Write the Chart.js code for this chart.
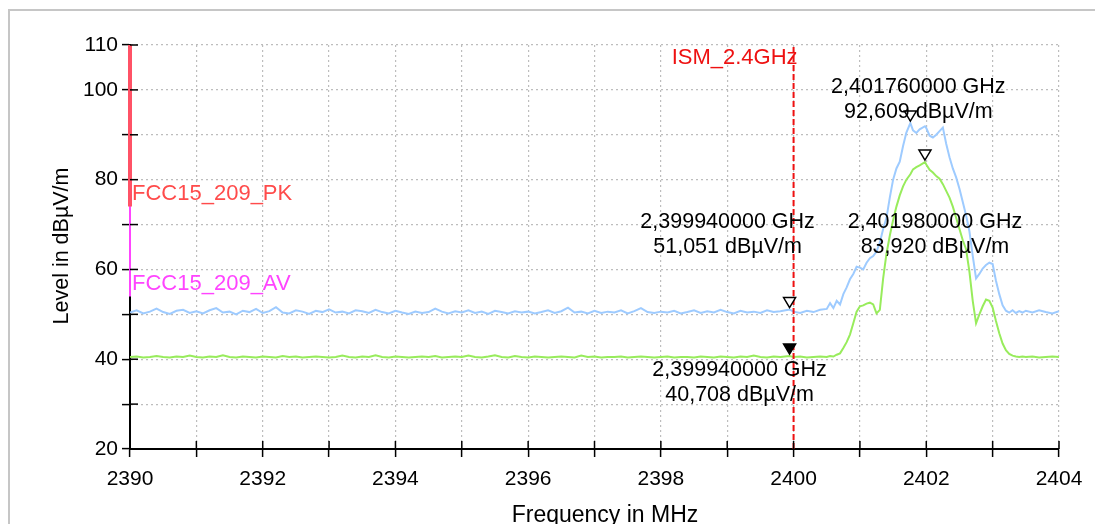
<!DOCTYPE html>
<html>
<head>
<meta charset="utf-8">
<script src="https://cdn.jsdelivr.net/npm/chart.js@4.4.1/dist/chart.umd.min.js"></script>
<style>
  html, body { margin: 0; padding: 0; background: #fff; }
  #wrap { position: relative; width: 1095px; height: 524px; overflow: hidden; }
  #frame { position: absolute; left: 8px; top: 9px; width: 1100px; height: 540px; border: 2px solid #c6c6c6; box-sizing: border-box; }
  #scan { position: absolute; left: 0; top: 0; }
</style>
</head>
<body>
<div id="wrap">
  <div id="frame"></div>
  <canvas id="scan" width="1095" height="524"></canvas>
</div>
<script>
// sweep points (MHz)
const freqs = [
  2390.0, 2390.1, 2390.2, 2390.3, 2390.4, 2390.5, 2390.6, 2390.7, 2390.8, 2390.9,
  2391.0, 2391.1, 2391.2, 2391.3, 2391.4, 2391.5, 2391.6, 2391.7, 2391.8, 2391.9,
  2392.0, 2392.1, 2392.2, 2392.3, 2392.4, 2392.5, 2392.6, 2392.7, 2392.8, 2392.9,
  2393.0, 2393.1, 2393.2, 2393.3, 2393.4, 2393.5, 2393.6, 2393.7, 2393.8, 2393.9,
  2394.0, 2394.1, 2394.2, 2394.3, 2394.4, 2394.5, 2394.6, 2394.7, 2394.8, 2394.9,
  2395.0, 2395.1, 2395.2, 2395.3, 2395.4, 2395.5, 2395.6, 2395.7, 2395.8, 2395.9,
  2396.0, 2396.1, 2396.2, 2396.3, 2396.4, 2396.5, 2396.6, 2396.7, 2396.8, 2396.9,
  2397.0, 2397.1, 2397.2, 2397.3, 2397.4, 2397.5, 2397.6, 2397.7, 2397.8, 2397.9,
  2398.0, 2398.1, 2398.2, 2398.3, 2398.4, 2398.5, 2398.6, 2398.7, 2398.8, 2398.9,
  2399.0, 2399.1, 2399.2, 2399.3, 2399.4, 2399.5, 2399.6, 2399.7, 2399.8, 2399.94,
  2400.0, 2400.1, 2400.2, 2400.3, 2400.4,
  2400.50, 2400.55, 2400.60, 2400.65, 2400.70, 2400.75, 2400.80, 2400.85, 2400.90, 2400.95,
  2401.00, 2401.05, 2401.10, 2401.15, 2401.20, 2401.25, 2401.30, 2401.35, 2401.40, 2401.45,
  2401.50, 2401.55, 2401.60, 2401.65, 2401.70, 2401.76, 2401.80, 2401.85, 2401.90, 2401.98,
  2402.00, 2402.05, 2402.10, 2402.15, 2402.20, 2402.25, 2402.30, 2402.35, 2402.40, 2402.45,
  2402.50, 2402.55, 2402.60, 2402.65, 2402.70, 2402.75, 2402.80, 2402.85, 2402.90, 2402.95,
  2403.00, 2403.05, 2403.10, 2403.15, 2403.20, 2403.25, 2403.30, 2403.35, 2403.40, 2403.45, 2403.50,
  2403.6, 2403.7, 2403.8, 2403.9, 2404.0
];

// peak detector trace (dBµV/m)
const peakLevels = [
  50.4, 50.9, 50.2, 50.6, 51.3, 50.5, 50.1, 50.8, 51.0, 50.3,
  50.7, 50.2, 50.9, 51.4, 50.4, 50.6, 50.0, 50.8, 50.5, 51.2,
  50.3, 50.7, 51.6, 50.4, 50.2, 50.9, 50.6, 50.1, 50.8, 50.5,
  51.1, 50.4, 50.6, 50.2, 50.9, 50.7, 50.3, 51.0, 50.5, 50.2,
  50.8, 50.4, 50.1, 50.6, 50.3, 50.5, 51.3, 50.6, 50.2, 50.7,
  50.4, 50.9, 50.3, 50.6, 50.1, 50.8, 50.5, 50.2, 50.7, 50.4,
  50.6, 50.2, 50.5, 50.9, 50.3, 50.7, 51.5, 50.4, 50.6, 50.2,
  50.8, 50.3, 50.6, 50.4, 50.9, 50.2, 50.7, 51.4, 50.5, 50.3,
  50.6, 50.4, 50.8, 50.2, 50.5, 50.9, 50.3, 50.7, 50.4, 51.0,
  50.5, 50.2, 50.8, 50.4, 50.6, 50.3, 50.9, 50.5, 50.7, 51.05,
  50.6, 50.3, 50.8, 50.5, 51.0,
  51.2, 52.5, 51.4, 53.0, 52.2, 54.5, 56.0, 57.8, 59.0, 60.6,
  60.4, 60.0, 61.5, 62.5, 63.0, 64.0, 66.0, 69.0, 71.5, 76.0,
  80.0, 82.5, 84.0, 87.5, 90.5, 92.61, 91.0, 90.4, 91.2, 91.9,
  91.5, 89.8, 89.4, 90.0, 90.8, 91.6, 88.0, 85.0, 82.5, 80.5,
  78.0, 75.0, 72.0, 68.5, 63.0, 58.0, 59.0, 60.2, 61.0, 61.5,
  61.2, 57.5, 54.5, 52.0, 50.8, 50.4, 50.9, 50.3, 50.7, 50.4, 50.8,
  50.4, 50.9, 50.5, 50.2, 50.7
];

// average detector trace (dBµV/m)
const avgLevels = [
  40.5, 40.6, 40.4, 40.5, 40.7, 40.5, 40.4, 40.6, 40.5, 40.8,
  40.5, 40.4, 40.6, 40.5, 40.9, 40.5, 40.4, 40.6, 40.5, 40.4,
  40.6, 40.5, 40.4, 40.7, 40.5, 40.6, 40.4, 40.5, 40.6, 40.5,
  40.4, 40.5, 40.8, 40.5, 40.4, 40.6, 40.5, 40.9, 40.5, 40.4,
  40.6, 40.5, 40.4, 40.5, 40.6, 40.5, 40.7, 40.4, 40.5, 40.6,
  40.5, 40.8, 40.5, 40.4, 40.6, 40.9, 40.5, 40.4, 40.7, 40.5,
  40.4, 40.6, 40.5, 40.4, 40.5, 40.6, 40.5, 40.4, 40.8, 40.5,
  40.6, 40.4, 40.5, 40.5, 40.6, 40.4, 40.5, 40.6, 40.5, 40.4,
  40.5, 40.6, 40.4, 40.5, 40.5, 40.4, 40.6, 40.5, 40.4, 40.6,
  40.5, 40.4, 40.6, 40.5, 40.8, 40.5, 40.4, 40.6, 40.5, 40.71,
  40.5, 40.6, 40.4, 40.5, 40.6,
  40.5, 40.7, 40.6, 41.0, 41.3, 42.5, 43.8, 45.5, 48.0, 50.6,
  51.8, 52.0, 52.4, 52.6, 52.2, 50.2, 51.0, 58.0, 63.5, 67.5,
  71.0, 74.0, 76.5, 78.5, 80.0, 81.2, 82.3, 82.8, 83.2, 83.92,
  83.4, 82.2, 81.6, 80.8, 80.2, 79.0, 77.5, 76.0, 74.0, 71.5,
  69.0, 66.5, 64.5, 59.5, 53.0, 48.0, 50.0, 51.8, 53.3, 53.0,
  51.5, 48.5, 45.8, 43.5, 42.0, 41.2, 40.8, 40.6, 40.5, 40.6, 40.5,
  40.6, 40.4, 40.5, 40.6, 40.5
];

// limit lines (only the restricted band edge at 2390 MHz falls in view)
const limitFreq = [2390, 2390];
const pkLimit = [110, 74];
const avLimit = [110, 54];
const ismFreq = 2400;

// markers
const markerFreq = [2399.94, 2399.94, 2401.76, 2401.98];
const markerLevel = [51.051, 40.708, 92.609, 83.920];
const markerFilled = [false, true, false, false];
const markerText = [
  ['2,399940000 GHz', '51,051 dBµV/m'],
  ['2,399940000 GHz', '40,708 dBµV/m'],
  ['2,401760000 GHz', '92,609 dBµV/m'],
  ['2,401980000 GHz', '83,920 dBµV/m']
];
// label offset from marker tip, px (centre x, first line y)
const markerLabelOffset = [[-62, -86], [-50, 16], [8, -34], [10, 62]];

const xTickLabels = [2390, 2392, 2394, 2396, 2398, 2400, 2402, 2404];
const yTickLabels = [20, 40, 60, 80, 100, 110];

const FONT = '"Liberation Sans", Arial, sans-serif';

function pts(xs, ys) {
  return xs.map((x, i) => ({ x: x, y: ys[i] }));
}

const annotate = {
  id: 'annotate',
  afterDatasetsDraw(chart) {
    const ctx = chart.ctx;
    const xs = chart.scales.x;
    const ys = chart.scales.y;
    const area = chart.chartArea;

    ctx.save();
    // inner tick marks
    ctx.strokeStyle = '#000';
    ctx.lineWidth = 1.5;
    for (let v = 2390; v <= 2404; v++) {
      const px = xs.getPixelForValue(v);
      ctx.beginPath();
      ctx.moveTo(px, area.bottom);
      ctx.lineTo(px, area.bottom - 8);
      ctx.stroke();
    }
    for (let v = 20; v <= 110; v += 10) {
      const py = ys.getPixelForValue(v);
      ctx.beginPath();
      ctx.moveTo(area.left, py);
      ctx.lineTo(area.left + 8, py);
      ctx.stroke();
    }

    ctx.textBaseline = 'middle';

    // ISM label
    ctx.font = '22px ' + FONT;
    ctx.fillStyle = '#ee1111';
    ctx.textAlign = 'right';
    ctx.fillText('ISM_2.4GHz', xs.getPixelForValue(ismFreq) + 4, area.top + 13);

    // limit labels
    ctx.textAlign = 'left';
    ctx.fillStyle = '#ff4b4b';
    ctx.fillText('FCC15_209_PK', xs.getPixelForValue(limitFreq[1]) + 2, ys.getPixelForValue(pkLimit[1]) - 13);
    ctx.fillStyle = '#ff44ff';
    ctx.fillText('FCC15_209_AV', xs.getPixelForValue(limitFreq[1]) + 2, ys.getPixelForValue(avLimit[1]) - 12);

    // markers
    ctx.font = '21.5px ' + FONT;
    ctx.textAlign = 'center';
    markerFreq.forEach((f, i) => {
      const px = xs.getPixelForValue(f);
      const py = ys.getPixelForValue(markerLevel[i]) - 2;
      ctx.beginPath();
      ctx.moveTo(px, py);
      ctx.lineTo(px - 6, py - 10);
      ctx.lineTo(px + 6, py - 10);
      ctx.closePath();
      ctx.lineWidth = 1.5;
      ctx.strokeStyle = '#000';
      ctx.fillStyle = markerFilled[i] ? '#000' : '#fff';
      ctx.fill();
      ctx.stroke();
      const off = markerLabelOffset[i];
      ctx.fillStyle = '#000';
      ctx.fillText(markerText[i][0], px + off[0], py + off[1]);
      ctx.fillText(markerText[i][1], px + off[0], py + off[1] + 25);
    });

    // axis titles
    ctx.font = '23px ' + FONT;
    ctx.fillText('Frequency in MHz', 605, 516);
    ctx.font = '21.5px ' + FONT;
    ctx.translate(62, 246);
    ctx.rotate(-Math.PI / 2);
    ctx.fillText('Level in dBµV/m', 0, 0);
    ctx.restore();
  }
};

const ctx = document.getElementById('scan').getContext('2d');

new Chart(ctx, {
  type: 'scatter',
  data: {
    datasets: [
      {
        label: 'ISM_2.4GHz',
        data: pts([ismFreq, ismFreq], [20, 110]),
        showLine: true,
        borderColor: '#ee1111',
        borderWidth: 2,
        borderDash: [6, 3],
        pointRadius: 0
      },
      {
        label: 'FCC15_209_PK',
        data: pts(limitFreq, pkLimit),
        showLine: true,
        clip: 6,
        borderColor: '#ff5266',
        borderWidth: 4,
        pointRadius: 0
      },
      {
        label: 'FCC15_209_AV',
        data: pts(limitFreq, avLimit),
        showLine: true,
        clip: 6,
        borderColor: '#ff44ff',
        borderWidth: 2,
        pointRadius: 0
      },
      {
        label: 'Peak',
        data: pts(freqs, peakLevels),
        showLine: true,
        borderColor: '#9ecbff',
        borderWidth: 2,
        pointRadius: 0
      },
      {
        label: 'Average',
        data: pts(freqs, avgLevels),
        showLine: true,
        borderColor: '#98ec5c',
        borderWidth: 2,
        pointRadius: 0
      }
    ]
  },
  options: {
    responsive: false,
    animation: false,
    layout: {
      padding: { top: 45, right: 36, left: 0, bottom: 0 }
    },
    plugins: {
      legend: { display: false },
      tooltip: { enabled: false }
    },
    scales: {
      x: {
        type: 'linear',
        min: 2390,
        max: 2404,
        afterFit: (s) => { s.height = 75; },
        ticks: {
          stepSize: 1,
          autoSkip: false,
          maxRotation: 0,
          padding: 10,
          color: '#000',
          font: { family: FONT, size: 21 },
          callback: (v) => xTickLabels.includes(v) ? String(v) : ''
        },
        grid: {
          color: '#bdbdbd',
          lineWidth: 1.2,
          tickColor: '#000',
          tickLength: 8,
          tickWidth: 1.5
        },
        border: { color: '#000', width: 2, dash: [2, 3] }
      },
      y: {
        min: 20,
        max: 110,
        afterFit: (s) => { s.width = 130; },
        ticks: {
          stepSize: 10,
          padding: 4,
          color: '#000',
          font: { family: FONT, size: 21 },
          callback: (v) => yTickLabels.includes(v) ? String(v) : ''
        },
        grid: {
          color: '#bdbdbd',
          lineWidth: 1.2,
          tickColor: '#000',
          tickLength: 8,
          tickWidth: 1.5
        },
        border: { color: '#000', width: 2, dash: [2, 3] }
      }
    }
  },
  plugins: [annotate]
});
</script>
</body>
</html>
